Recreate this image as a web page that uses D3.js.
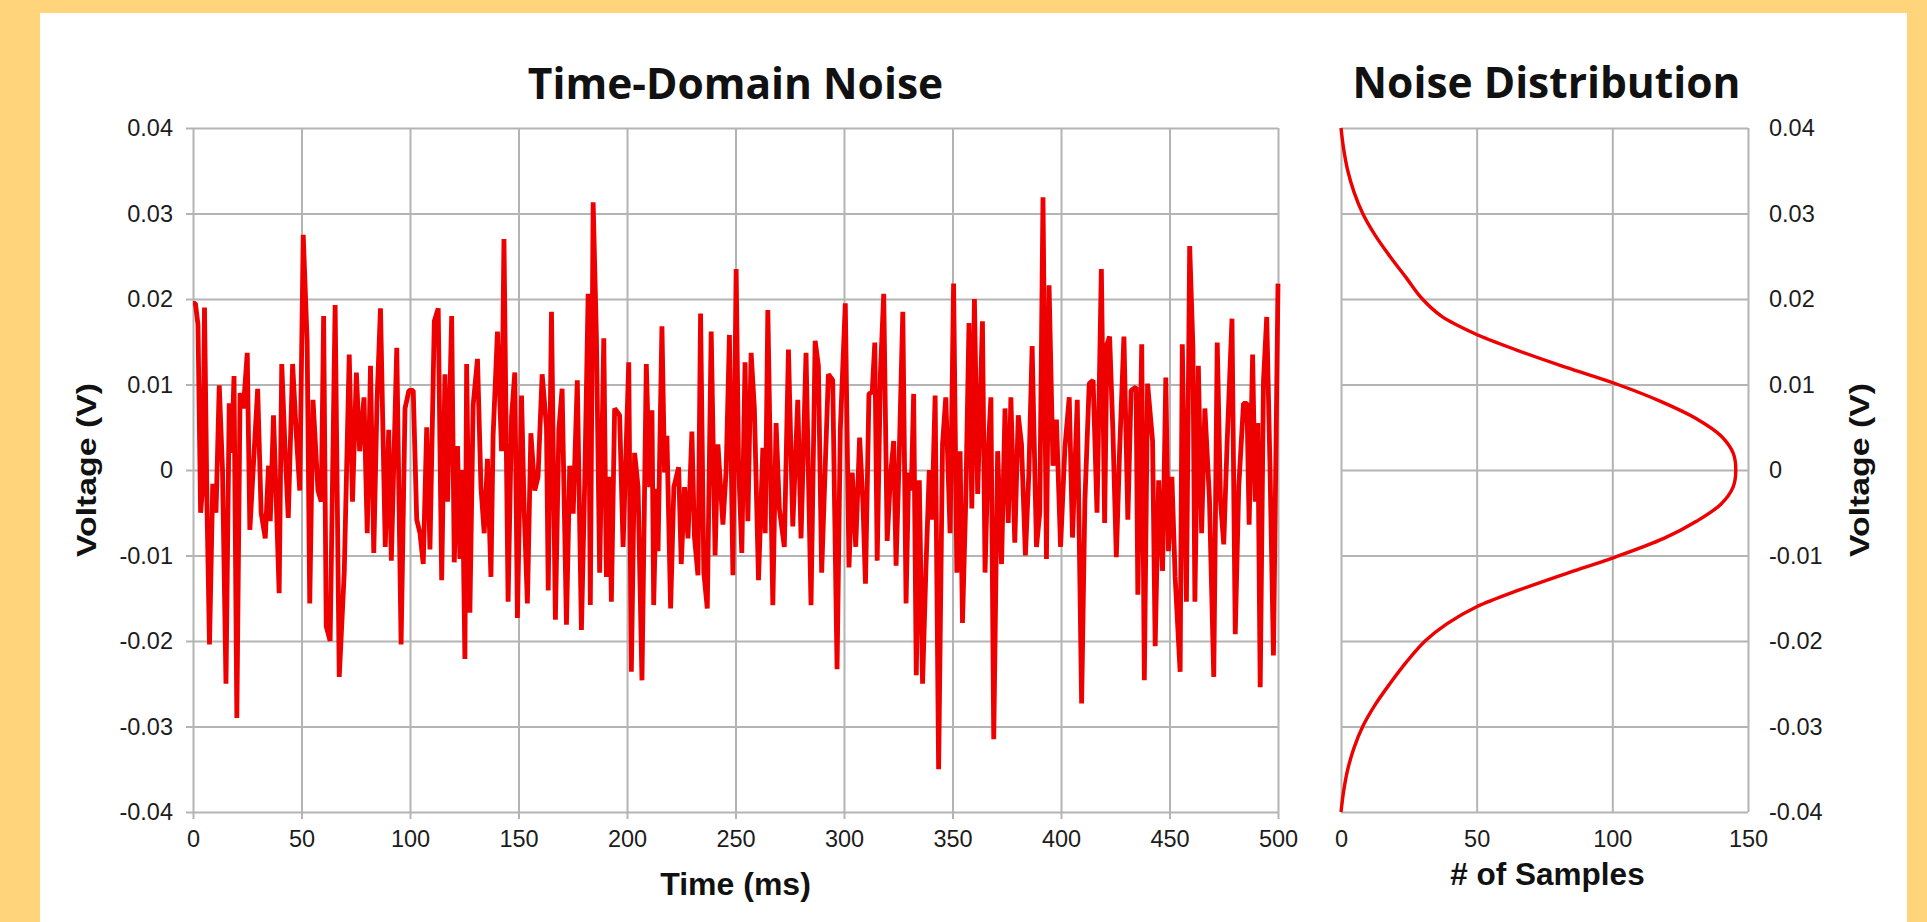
<!DOCTYPE html>
<html>
<head>
<meta charset="utf-8">
<script src="https://cdn.jsdelivr.net/npm/d3@7/dist/d3.min.js"></script>
<style>
  html, body { margin: 0; padding: 0; background: #FFD47B; }
  svg { display: block; }
</style>
</head>
<body>
<svg id="chart" width="1927" height="922"></svg>
<script>
// ---------------- DATA ----------------
const timeMs = [
  0, 1.1, 2.3, 3.5, 4.5, 5.3, 6.5, 7.6, 9.1, 10.6, 12.1, 13.6, 15.2, 16.7, 17.8, 18.9, 20.2, 21.7, 23.2, 25,
  26.2, 28, 29.8, 31.4, 33.3, 34.8, 35.6, 37.1, 38.3, 39.7, 40.9, 42.4, 43.9, 45.9, 47.7, 49.2, 50.8, 52.6, 53.8, 55.3,
  57.6, 59.1, 60.2, 61.4, 63.2, 65.5, 67.4, 69.7, 72, 73.5, 75.3, 76.8, 78.8, 80.3, 81.8, 83.3, 84.8, 86.4, 88.6, 90.2,
  91.4, 93.9, 95.9, 97.7, 99.5,
  101.5, 103.1, 104.6, 106.1, 107.7, 109.2, 111.2, 113, 114.6, 116.1, 117.3, 119.2, 120.4, 121.9, 123, 124.1, 125.3, 126.1, 127.6, 129.1,
  131.1, 132.7, 134.2, 135.7, 137.3, 138.3, 140.3, 142.2, 143.3, 145.2, 146.8, 148.3, 149.5, 151.4, 152.6, 154.1, 155.7, 157.5, 159, 160.9,
  162.9, 163.7, 165.2, 167, 168.6, 170.1, 172.1, 173.6, 175.2, 177.1, 179, 180.5, 182.1, 183.1, 184.4, 185.9, 187.4, 189.3, 190.5, 192,
  192.8, 194.3, 196.6, 198.2, 200.8,
  202, 203.5, 205.1, 206.9, 208.9, 210.4, 211.5, 212.3, 213.5, 214.3, 216.1, 217.3, 218.4, 220.1, 221.6, 223.8, 225, 226.5, 228.1, 229.9,
  231.1, 232.7, 233.9, 235.4, 237, 238.8, 240.6, 241.9, 244.2, 245.7, 247.2, 248.8, 250.3, 251.4, 252.9, 254.4, 255.7, 257.2, 258.7, 260.6,
  262.6, 263.7, 264.9, 267.2, 268.7, 270.2, 272.5, 274.4, 276.4, 278.7, 280.2, 282.5, 284.8, 286.7, 288.2, 289.7, 291.3, 292.8, 294.8, 296.8,
  298.3, 300.6,
  302.3, 303.8, 305.4, 307.2, 308.7, 309.9, 311.5, 313, 314.2, 315.3, 316.8, 318.3, 319.9, 321.4, 322.9, 324, 325.5, 327.1, 328.6, 329.8,
  331, 332.1, 333.3, 334.7, 336.2, 337.8, 339.3, 340.5, 342, 343.6, 345.4, 346.9, 348.9, 350.5, 352, 353.5, 354.6, 356.1, 357.6, 358.9,
  360.1, 361.6, 363.8, 365, 366.5, 367.7, 369, 370.8, 372.6, 374.2, 375.7, 376.9, 378.7, 380.3, 381.8, 383.6, 385.2, 386.7, 388.7, 390.2,
  391.7, 393.3, 394.5, 396.3, 397.9, 399.8,
  401.8, 403.8, 405.3, 407.5, 409.5, 411, 413, 414.8, 416.6, 418.6, 420.1, 421.2, 422.4, 423.9, 425.5, 427, 429, 430.8, 432.3, 434.6,
  435.4, 437.2, 438.4, 439.9, 442.2, 443.4, 445, 446.8, 448.3, 449.5, 451.1, 452.6, 454.9, 455.9, 457.8, 459.3, 460.8, 461.7, 463.3, 464.8,
  466.3, 468.4, 470.4, 472, 473.5, 475, 476.5, 478.8, 480.3, 481.9, 484.1, 485.7, 486.7, 488.3, 489.5, 490.7, 491.8, 493.3, 494.8, 496.3,
  497.9, 500
];
const voltage = [
  0.0195, 0.0195, 0.017, -0.005, -0.002, 0.019, -0.005, -0.0204, -0.0016, -0.005, 0.0099, 0, -0.025, 0.0078, 0.002, 0.011, -0.029, 0.009, 0.0072, 0.0137,
  -0.007, 0.0013, 0.0095, -0.005, -0.008, 0.0005, -0.006, 0.0064, -0.003, -0.0144, 0.0124, 0.0026, -0.0056, 0.0124, 0.0038, -0.0024, 0.0275, 0.015, -0.0156, 0.0082,
  -0.0024, -0.0037, 0.018, -0.0183, -0.02, 0.0193, -0.0242, -0.012, 0.0135, -0.0037, 0.0114, 0.0022, 0.0085, -0.0074, 0.0122, -0.0097, 0.008, 0.0189, -0.009, 0.0047,
  -0.0106, 0.0143, -0.0204, 0.0072, 0.0093,
  0.0093, -0.0058, -0.0074, -0.011, 0.005, -0.0093, 0.0174, 0.0189, -0.0129, 0.0112, -0.0037, 0.018, -0.0108, 0.0028, -0.0104, 0, -0.0221, 0.0124, -0.0167, 0.0076,
  0.013, -0.002, -0.0074, 0.0013, -0.0125, 0.004, 0.0162, 0.0022, 0.027, -0.0154, 0.0062, 0.0114, -0.0173, 0.0087, -0.0045, -0.0156, 0.0043, -0.0024, -0.0008, 0.0112,
  0.005, -0.0141, 0.0185, -0.0175, 0.0047, 0.0095, -0.0181, 0.0005, -0.0051, 0.0105, -0.0187, -0.0016, 0.0206, -0.0158, 0.0313, 0.0156, -0.012, 0.0154, -0.0125, -0.0008,
  -0.0154, 0.0072, 0.0064, -0.009, 0.0126,
  -0.0236, 0.002, -0.002, -0.0246, 0.0124, -0.002, 0.007, -0.0158, -0.0022, -0.0095, 0.0168, -0.0003, 0.004, -0.0162, -0.002, 0.0003, -0.011, -0.002, -0.008, 0.0045,
  -0.0079, -0.0123, 0.0183, -0.012, -0.0162, 0.0162, -0.01, 0.003, -0.0064, 0, 0.0158, -0.0123, 0.0235, 0.0009, -0.0097, 0.0126, -0.006, 0.0137, 0.0072, -0.0129,
  0.0026, -0.0074, 0.0187, -0.0158, 0.0055, -0.0045, -0.009, 0.0141, -0.0066, 0.0082, -0.008, 0.0137, -0.0158, 0.0151, 0.0122, -0.012, 0, 0.0112, 0.0105, -0.0233,
  0.0047, 0.0195,
  -0.0114, -0.0003, -0.009, 0.0038, -0.0037, -0.0133, 0.0089, 0.0091, 0.0149, -0.0106, 0.0114, 0.0206, -0.0083, -0.0008, 0.0034, -0.0112, 0.0022, 0.0185, -0.0156, -0.0003,
  -0.0024, 0.0089, -0.024, -0.0012, -0.025, -0.0112, 0, -0.0058, 0.0087, -0.035, 0.003, 0.0085, -0.0074, 0.0218, -0.012, 0.0022, -0.0179, -0.0037, 0.0172, -0.0045,
  0.02, -0.0028, 0.0174, -0.012, 0.0026, 0.0085, -0.0315, 0.0022, -0.011, 0.0072, -0.0062, 0.0085, -0.0085, 0.0064, 0.003, -0.01, -0.0003, 0.0145, -0.009, -0.005,
  0.0319, -0.0104, 0.0216, 0.0005, 0.0059, -0.009,
  0.0026, 0.0085, -0.0079, 0.0082, -0.0273, -0.0037, 0.0101, 0.0105, -0.005, 0.0235, -0.0062, 0.0147, 0.0156, 0.0047, -0.0102, 0.0022, 0.0156, -0.0058, 0.0093, 0.0097,
  -0.0146, 0.0147, -0.0246, 0.0101, 0.0034, -0.0206, -0.0012, -0.0118, 0.0108, -0.0095, -0.0008, -0.0125, -0.0236, 0.0147, -0.0154, 0.0262, 0.0143, -0.0154, 0.0122, -0.0074,
  0.0072, -0.0033, -0.0242, 0.0149, -0.0037, -0.0087, 0.0028, 0.0177, -0.0192, -0.002, 0.0078, 0.0078, -0.0064, 0.0135, -0.0037, 0.0055, -0.0254, 0.0103, 0.0179, 0.0005,
  -0.0217, 0.0218
];

// Noise distribution curve (# of samples vs voltage)
const distVoltage = [0.04, 0.0375, 0.035, 0.0325, 0.03, 0.0275, 0.025, 0.0225, 0.02, 0.018, 0.016, 0.014, 0.012, 0.01, 0.008, 0.006, 0.004, 0.002, 0,
  -0.002, -0.004, -0.006, -0.008, -0.0103, -0.012, -0.014, -0.016, -0.018, -0.02, -0.0225, -0.025, -0.0275, -0.03, -0.0325, -0.035, -0.0375, -0.04];
const distCount = [0, 1, 2.5, 4.8, 8, 12.5, 18, 24, 30, 37, 49, 65, 83, 102, 118, 131, 140, 144.5, 145.5,
  144.5, 140, 131, 119, 100, 84, 66, 50, 39, 31, 24, 18, 12.5, 8, 4.8, 2.5, 1, 0];

// Ticks and labels
const timeTicks = [0, 50, 100, 150, 200, 250, 300, 350, 400, 450, 500];
const voltTicks = [-0.04, -0.03, -0.02, -0.01, 0, 0.01, 0.02, 0.03, 0.04];
const sampleTicks = [0, 50, 100, 150];
const titles = { left: "Time-Domain Noise", right: "Noise Distribution" };
const axisTitles = { time: "Time (ms)", samples: "# of Samples", volt: "Voltage (V)" };

// ---------------- DRAW ----------------
(function () {
  const svg = d3.select("#chart");
  const W = 1927, H = 922;
  const gridColor = "#b4b4b4";
  const lineColor = "#ee0000";
  const tickFont = "'Liberation Sans', Arial, sans-serif";

  svg.append("rect").attr("width", W).attr("height", H).attr("fill", "#FFD47B");
  svg.append("rect").attr("x", 40).attr("y", 13).attr("width", 1867).attr("height", H - 13).attr("fill", "#ffffff");

  const plotTop = 128, plotBottom = 812;
  const xT = d3.scaleLinear().domain([0, 500]).range([193, 1278]);
  const xS = d3.scaleLinear().domain([0, 150]).range([1341, 1748]);
  const yV = d3.scaleLinear().domain([-0.04, 0.04]).range([plotBottom, plotTop]);
  const fmtV = d => d === 0 ? "0" : d.toFixed(2);

  const gridStyle = g => { g.select(".domain").remove(); g.selectAll(".tick line").attr("stroke", gridColor).attr("stroke-width", 2); };
  function styleAxis(g) {
    g.select(".domain").remove();
    g.selectAll(".tick line").attr("stroke", gridColor).attr("stroke-width", 2);
    g.selectAll(".tick text").attr("fill", "#1c1c1c").attr("font-family", tickFont).attr("font-size", 23.5);
  }

  // Left panel gridlines
  svg.append("g").attr("transform", `translate(${xT.range()[0]},0)`)
    .call(d3.axisLeft(yV).tickValues(voltTicks).tickSize(-(xT.range()[1] - xT.range()[0])).tickFormat(""))
    .call(gridStyle);
  svg.append("g").attr("transform", `translate(0,${plotBottom})`)
    .call(d3.axisBottom(xT).tickValues(timeTicks).tickSize(-(plotBottom - plotTop)).tickFormat(""))
    .call(gridStyle);
  // Left axes with outward ticks and labels
  svg.append("g").attr("transform", `translate(${xT.range()[0]},0)`)
    .call(d3.axisLeft(yV).tickValues(voltTicks).tickSize(7).tickPadding(13).tickFormat(fmtV))
    .call(styleAxis);
  svg.append("g").attr("transform", `translate(0,${plotBottom})`)
    .call(d3.axisBottom(xT).tickValues(timeTicks).tickSize(7).tickPadding(11).tickFormat(d3.format("d")))
    .call(styleAxis);

  // Right panel gridlines and axes
  svg.append("g").attr("transform", `translate(${xS.range()[0]},0)`)
    .call(d3.axisLeft(yV).tickValues(voltTicks).tickSize(-(xS.range()[1] - xS.range()[0])).tickFormat(""))
    .call(gridStyle);
  svg.append("g").attr("transform", `translate(0,${plotBottom})`)
    .call(d3.axisBottom(xS).tickValues(sampleTicks).tickSize(-(plotBottom - plotTop)).tickFormat(""))
    .call(gridStyle);
  svg.append("g").attr("transform", `translate(${xS.range()[1]},0)`)
    .call(d3.axisRight(yV).tickValues(voltTicks).tickSize(0).tickPadding(21).tickFormat(fmtV))
    .call(styleAxis);
  svg.append("g").attr("transform", `translate(0,${plotBottom})`)
    .call(d3.axisBottom(xS).tickValues(sampleTicks).tickSize(0).tickPadding(18).tickFormat(d3.format("d")))
    .call(styleAxis);

  // Noise line
  const noise = timeMs.map((t, i) => [t, voltage[i]]);
  svg.append("path")
    .datum(noise)
    .attr("fill", "none")
    .attr("stroke", lineColor)
    .attr("stroke-width", 4.8)
    .attr("stroke-linejoin", "bevel")
    .attr("d", d3.line().x(d => xT(d[0])).y(d => yV(d[1])));

  // Distribution curve
  const dist = distVoltage.map((v, i) => [distCount[i], v]);
  svg.append("path")
    .datum(dist)
    .attr("fill", "none")
    .attr("stroke", lineColor)
    .attr("stroke-width", 3.4)
    .attr("d", d3.line().x(d => xS(d[0])).y(d => yV(d[1])).curve(d3.curveCatmullRom.alpha(0.5)));

  // Titles
  const titleFont = "'Open Sans', 'Noto Sans', sans-serif";
  svg.append("text").attr("x", (xT.range()[0] + xT.range()[1]) / 2).attr("y", 99)
    .attr("text-anchor", "middle").attr("font-family", titleFont).attr("font-weight", 700)
    .attr("font-size", 42.5).attr("fill", "#111").text(titles.left);
  svg.append("text").attr("x", (xS.range()[0] + xS.range()[1]) / 2 + 2).attr("y", 98)
    .attr("text-anchor", "middle").attr("font-family", titleFont).attr("font-weight", 700)
    .attr("font-size", 42.5).attr("fill", "#111").text(titles.right);

  // Axis titles
  svg.append("text").attr("x", (xT.range()[0] + xT.range()[1]) / 2).attr("y", 895)
    .attr("text-anchor", "middle").attr("font-family", tickFont).attr("font-weight", 700)
    .attr("font-size", 32).attr("fill", "#111").text(axisTitles.time);
  svg.append("text").attr("x", (xS.range()[0] + xS.range()[1]) / 2 + 3).attr("y", 885)
    .attr("text-anchor", "middle").attr("font-family", tickFont).attr("font-weight", 700)
    .attr("font-size", 31.5).attr("fill", "#111").text(axisTitles.samples);

  const midY = (plotTop + plotBottom) / 2;
  [[86, axisTitles.volt], [1859, axisTitles.volt]].forEach(([x, label]) => {
    svg.append("text")
      .attr("transform", `translate(${x},${midY}) rotate(-90)`)
      .attr("text-anchor", "middle").attr("dominant-baseline", "central")
      .attr("font-family", tickFont).attr("font-weight", 700)
      .attr("font-size", 28).attr("fill", "#111")
      .attr("textLength", 174).attr("lengthAdjust", "spacingAndGlyphs")
      .text(label);
  });
})();
</script>
</body>
</html>
